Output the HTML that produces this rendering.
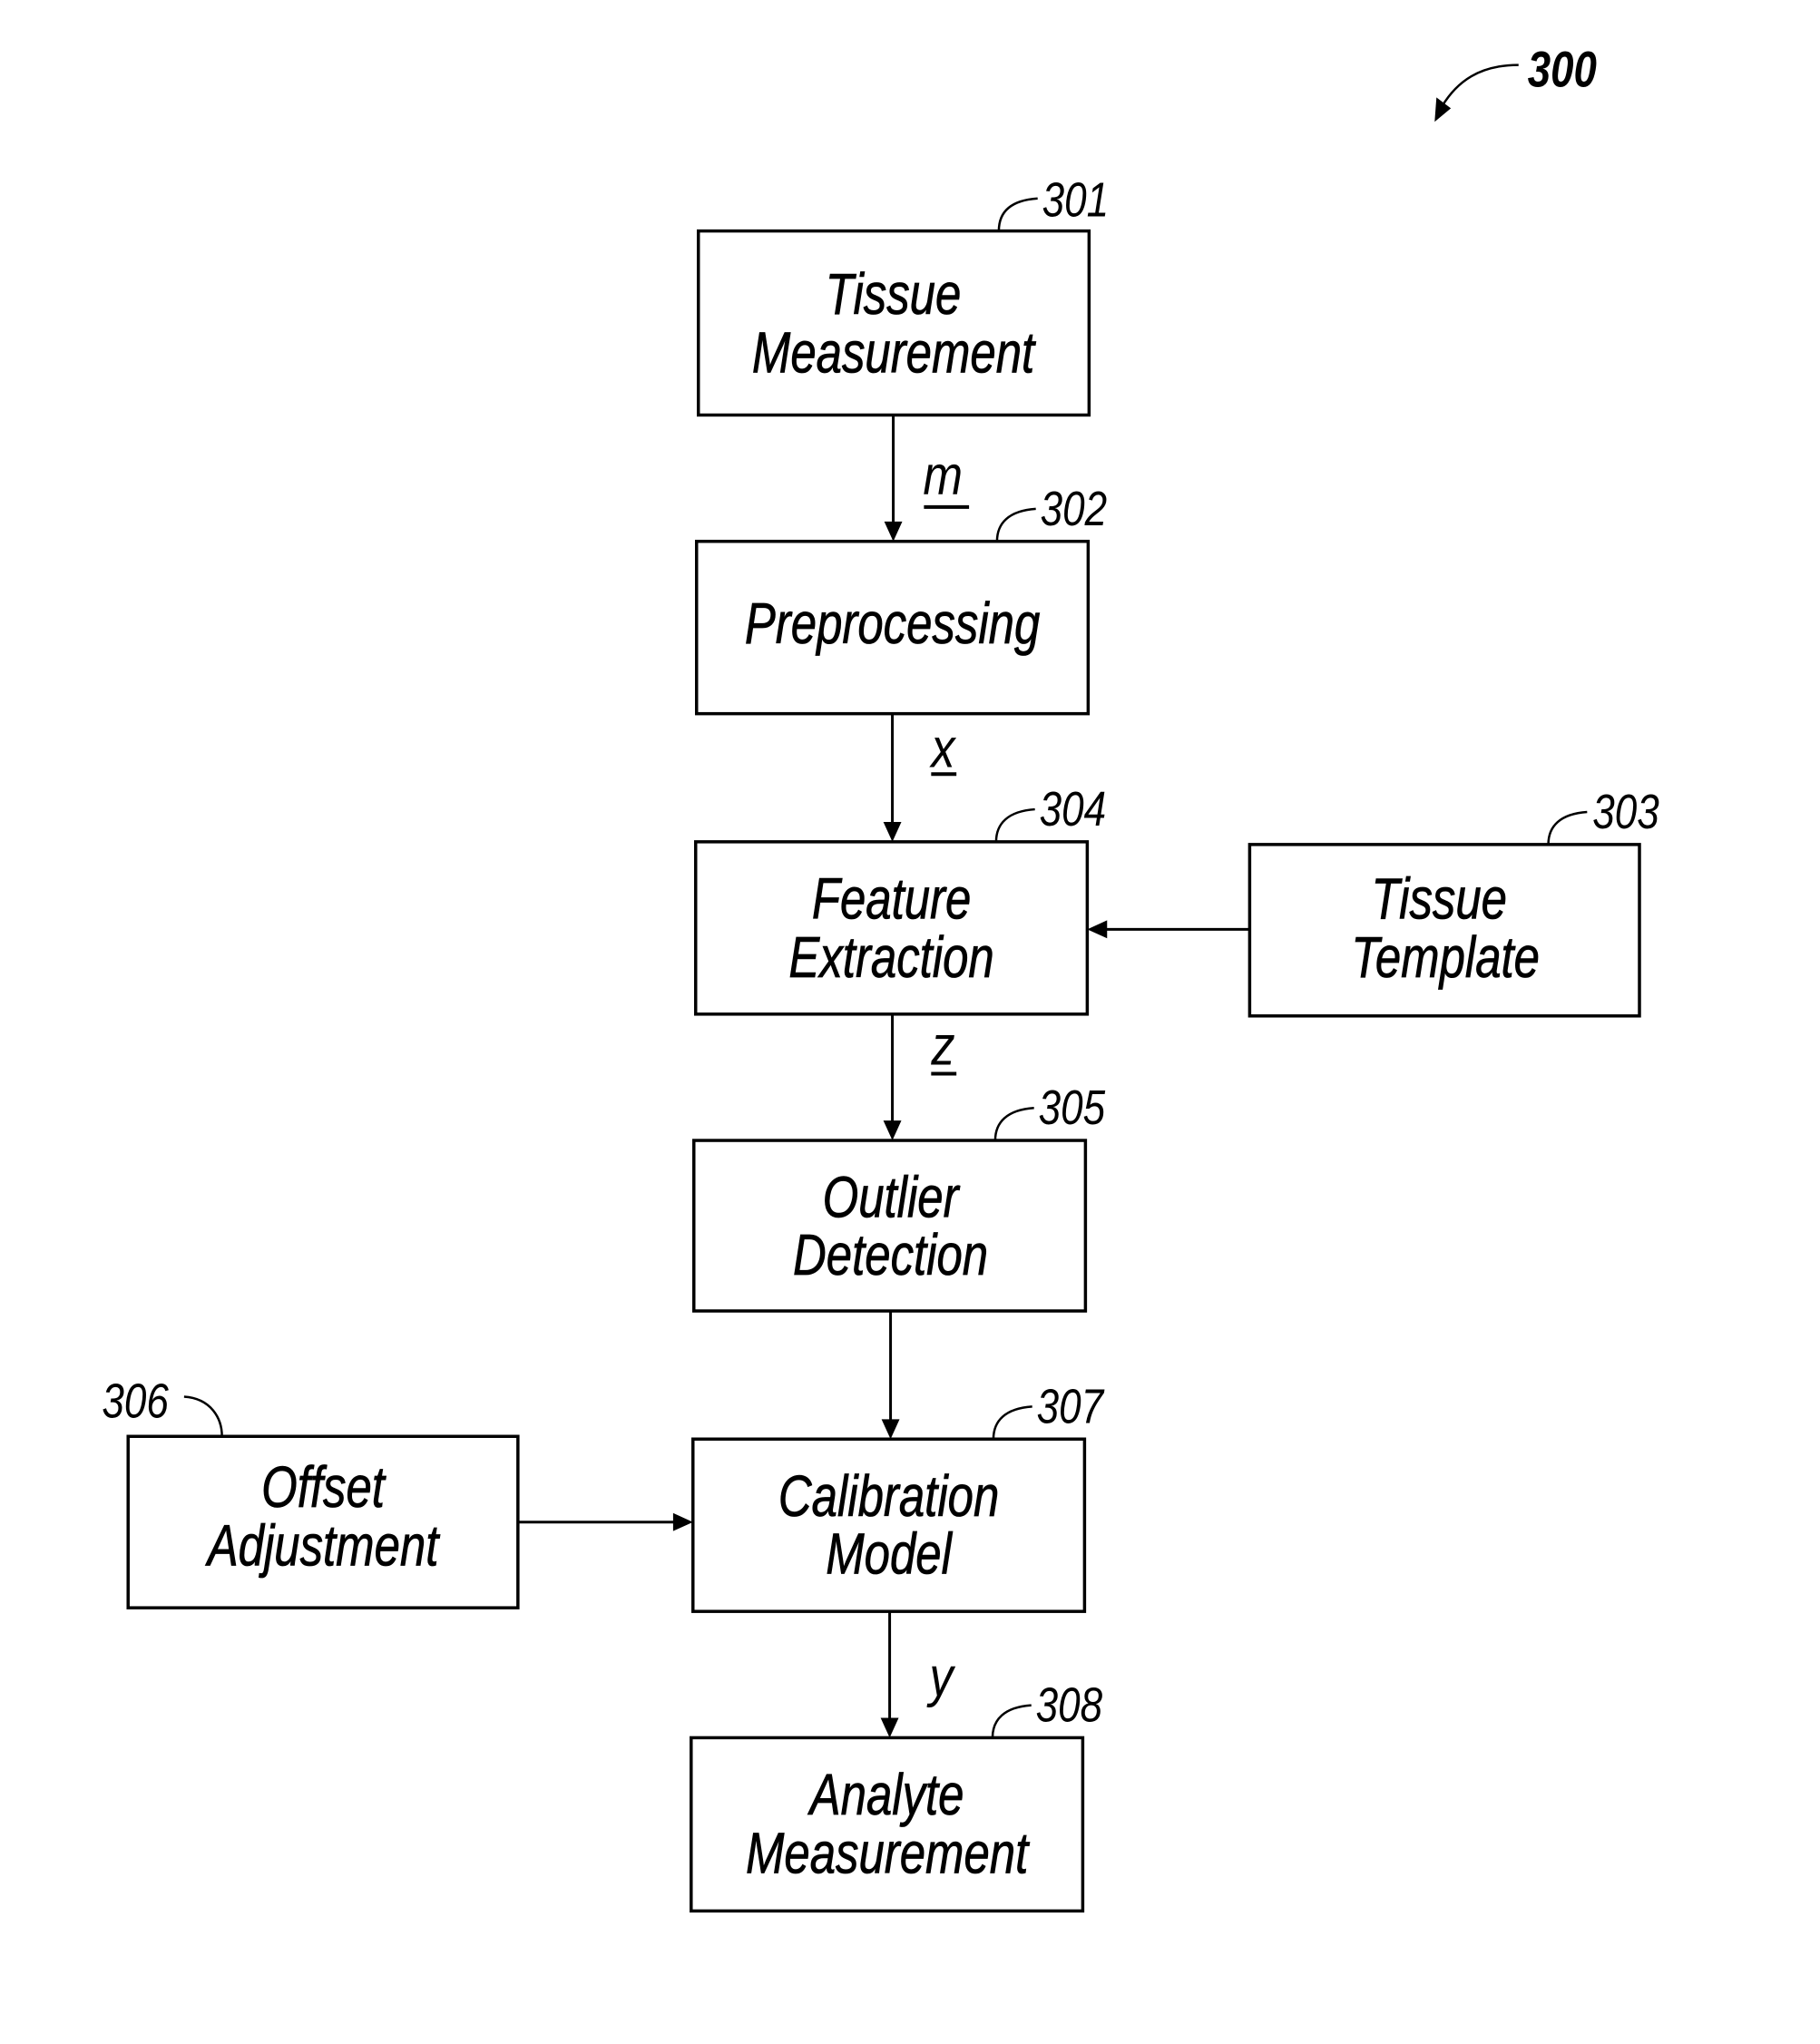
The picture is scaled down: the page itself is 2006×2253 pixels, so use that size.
<!DOCTYPE html>
<html><head><meta charset="utf-8"><style>
html,body{margin:0;padding:0;background:#fff;}
svg{display:block;}
text{font-family:"Liberation Sans",sans-serif;font-style:italic;fill:#000;}
</style></head><body>
<svg width="2006" height="2253" viewBox="0 0 2006 2253" xmlns="http://www.w3.org/2000/svg">
<g transform="scale(0.9945)">
<g fill="none" stroke="#000" stroke-width="3.5">
<rect x="774" y="256" width="433" height="204"/>
<rect x="772" y="600" width="434" height="191"/>
<rect x="771" y="933" width="434" height="191"/>
<rect x="1385" y="936" width="432" height="190"/>
<rect x="769" y="1264" width="434" height="189"/>
<rect x="768" y="1595" width="434" height="191"/>
<rect x="142" y="1592" width="432" height="190"/>
<rect x="766" y="1926" width="434" height="192"/>
</g>
<g stroke="#000" stroke-width="3">
<line x1="990" y1="460" x2="990" y2="580"/>
<line x1="989" y1="791" x2="989" y2="913"/>
<line x1="989" y1="1124" x2="989" y2="1244"/>
<line x1="987" y1="1453" x2="987" y2="1575"/>
<line x1="986" y1="1786" x2="986" y2="1906"/>
<line x1="1385" y1="1030" x2="1225" y2="1030"/>
<line x1="574" y1="1687" x2="748" y2="1687"/>
</g>
<g fill="#000">
<path d="M980,578 L1000,578 L990,600 z"/>
<path d="M979,911 L999,911 L989,933 z"/>
<path d="M979,1242 L999,1242 L989,1264 z"/>
<path d="M977,1573 L997,1573 L987,1595 z"/>
<path d="M976,1904 L996,1904 L986,1926 z"/>
<path d="M1227,1020 L1227,1040 L1205,1030 z"/>
<path d="M746,1677 L746,1697 L768,1687 z"/>
</g>
<g fill="none" stroke="#000" stroke-width="2.5">
<path d="M1107,256 C1107,235 1120,222 1150,220"/>
<path d="M1105,600 C1105,580 1118,566 1148,564"/>
<path d="M1104,933 C1104,913 1117,899 1147,897"/>
<path d="M1716,936 C1716,916 1729,902 1759,900"/>
<path d="M1103,1264 C1103,1244 1116,1230 1146,1228"/>
<path d="M1101,1595 C1101,1575 1114,1561 1144,1559"/>
<path d="M1100,1926 C1100,1906 1113,1892 1143,1890"/>
<path d="M246,1592 C246,1572 234,1550 204,1548"/>
<path d="M1683,72 C1640,72 1615,90 1598,118"/>
</g>
<path d="M1590,135 L1592,108 L1608,120 z" fill="#000"/>
<g font-size="54">
<text transform="translate(1155,240) scale(0.82,1)">301</text>
<text transform="translate(1153,582) scale(0.82,1)">302</text>
<text transform="translate(1152,915) scale(0.82,1)">304</text>
<text transform="translate(1765,918) scale(0.82,1)">303</text>
<text transform="translate(1151,1246) scale(0.82,1)">305</text>
<text transform="translate(1149,1577) scale(0.82,1)">307</text>
<text transform="translate(1148,1908) scale(0.82,1)">308</text>
<text transform="translate(113,1571) scale(0.82,1)">306</text>
</g>
<text transform="translate(1693,96) scale(0.82,1)" font-size="56" font-weight="bold">300</text>
<g font-size="64" text-anchor="middle" stroke="#000" stroke-width="0.8">
<text transform="translate(990,348) scale(0.8,1)">Tissue</text>
<text transform="translate(990,413) scale(0.8,1)">Measurement</text>
<text transform="translate(989,713) scale(0.8,1)">Preprocessing</text>
<text transform="translate(988,1018) scale(0.8,1)">Feature</text>
<text transform="translate(988,1083) scale(0.8,1)">Extraction</text>
<text transform="translate(1595,1018) scale(0.8,1)">Tissue</text>
<text transform="translate(1602,1083) scale(0.8,1)">Template</text>
<text transform="translate(987,1349) scale(0.8,1)">Outlier</text>
<text transform="translate(987,1413) scale(0.8,1)">Detection</text>
<text transform="translate(985,1680) scale(0.8,1)">Calibration</text>
<text transform="translate(985,1744) scale(0.8,1)">Model</text>
<text transform="translate(358,1670) scale(0.8,1)">Offset</text>
<text transform="translate(358,1735) scale(0.8,1)">Adjustment</text>
<text transform="translate(983,2011) scale(0.8,1)">Analyte</text>
<text transform="translate(983,2076) scale(0.8,1)">Measurement</text>
</g>
<g font-size="62">
<text transform="translate(1023,548) scale(0.85,1)">m</text>
<text transform="translate(1032,850) scale(0.85,1)">x</text>
<text transform="translate(1032,1180) scale(0.85,1)">z</text>
<text transform="translate(1030,1880) scale(0.85,1)">y</text>
</g>
<g stroke="#000" stroke-width="4">
<line x1="1024" y1="562" x2="1074" y2="562"/>
<line x1="1032" y1="858" x2="1060" y2="858"/>
<line x1="1032" y1="1190" x2="1060" y2="1190"/>
</g>
</g>
</svg>
</body></html>
